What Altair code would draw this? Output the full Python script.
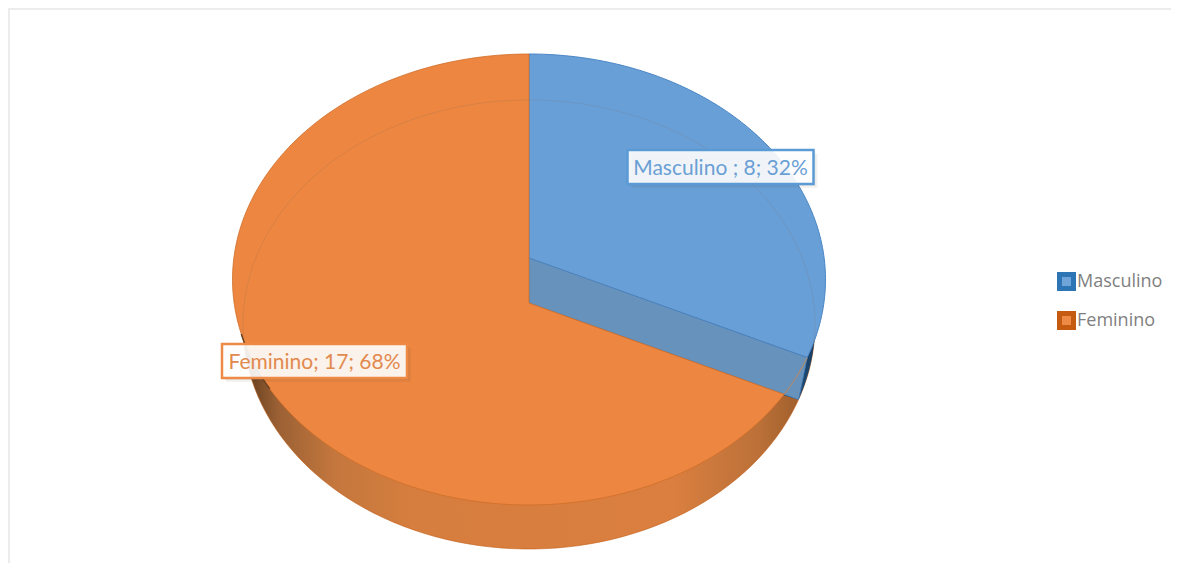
import numpy as np
import pandas as pd
import altair as alt

categories = ["Masculino", "Feminino"]
counts = [8, 17]
label_texts = ["Masculino ; 8; 32%", "Feminino; 17; 68%"]
face_colors = ["#699fd7", "#ec8641"]
edge_colors = ["#4a86c5", "#cf6f2a"]
text_colors = ["#6a9fd4", "#e28a4e"]

# layout, in picture pixels
W, H = 1163, 555
CX, RX_TOP, RY_TOP, CY_TOP = 529.0, 296.5, 225.5, 279.5
RX_LOW, RY_LOW, CY_LOW = 286.0, 224.5, 324.5
APEX_TOP, APEX_LOW = 258.0, 303.0
LABEL_BOX = [(720.5, 167, 186, 34), (314.5, 361, 185, 34)]
SHADOW = 4

turn = 2 * np.pi * counts[0] / sum(counts)


def ell(t, rx, ry, cy):
    return CX + rx * np.sin(t), cy - ry * np.cos(t)


def ray_hit(apex_y, rx, ry, cy):
    dx, dy = RX_TOP * np.sin(turn), -RY_TOP * np.cos(turn)
    a = (dx / rx) ** 2 + (dy / ry) ** 2
    oy = apex_y - cy
    b = 2 * oy * dy / ry ** 2
    c = (oy / ry) ** 2 - 1
    s = (-b + np.sqrt(b * b - 4 * a * c)) / (2 * a)
    x, y = CX + s * dx, apex_y + s * dy
    return x, y, np.arctan2((x - CX) / rx, -(y - cy) / ry) % (2 * np.pi)


xs_top, ys_top, t_top = ray_hit(APEX_TOP, RX_TOP, RY_TOP, CY_TOP)
xo_top, yo_top, to_top = ray_hit(APEX_LOW, RX_TOP, RY_TOP, CY_TOP)
xw_low, yw_low, t_low = ray_hit(APEX_LOW, RX_LOW, RY_LOW, CY_LOW)


def frame(points):
    pts = list(points)
    return pd.DataFrame({"x": [p[0] for p in pts], "y": [p[1] for p in pts], "i": range(len(pts))})


def arc(t0, t1, rx, ry, cy, n=160):
    return [ell(t, rx, ry, cy) for t in np.linspace(t0, t1, n)]


SX = alt.Scale(domain=[8, 8 + W], nice=False, zero=False)
SY = alt.Scale(domain=[8 + H, 8], nice=False, zero=False)
X = alt.X("x:Q", axis=None, scale=SX)
Y = alt.Y("y:Q", axis=None, scale=SY)


def poly(points, **mark):
    mark.setdefault("strokeWidth", 0)
    pts = list(points)
    pts.append(pts[0])
    return alt.Chart(frame(pts)).mark_line(interpolate="linear", **mark).encode(x=X, y=Y, order="i:Q")


def path(points, **mark):
    return alt.Chart(frame(points)).mark_line(interpolate="linear", **mark).encode(x=X, y=Y, order="i:Q")


# page edge
edge_df = pd.DataFrame({"x": [8, 8], "x2": [8 + W, 10], "y": [8, 8], "y2": [10, 8 + H]})
page_edge = alt.Chart(edge_df).mark_rect(color="#ececec").encode(
    x=alt.X("x:Q", axis=None, scale=SX), x2="x2:Q", y=alt.Y("y:Q", axis=None, scale=SY), y2="y2:Q")

# legend source: small squares hidden under the pie
legend_df = pd.DataFrame({"x": [CX, CX], "y": [CY_TOP, CY_TOP], "cat": categories})
legend_opts = dict(
    title=None, orient="none", legendX=1049, legendY=264, symbolType="square", symbolSize=196,
    symbolStrokeWidth=5, labelFont="Open Sans", labelFontSize=18, labelColor="#7f7f7f",
    rowPadding=4, labelOffset=1, symbolOpacity=1,
)
legend_layer = alt.Chart(legend_df).mark_point(filled=True, shape="square", size=4).encode(
    x=X, y=Y,
    fill=alt.Fill("cat:N", scale=alt.Scale(domain=categories, range=["#6fa4d8", "#ed8a45"]),
                  legend=alt.Legend(**legend_opts)),
    stroke=alt.Stroke("cat:N", scale=alt.Scale(domain=categories, range=["#2e75b6", "#c55a11"]),
                      legend=alt.Legend(**legend_opts)),
)

side_grad = alt.Gradient(gradient="linear", x1=0, x2=1, y1=0, y2=0, stops=[
    alt.GradientStop(offset=0.0, color="#5f3b1c"),
    alt.GradientStop(offset=0.06, color="#9a6034"),
    alt.GradientStop(offset=0.16, color="#c4773d"),
    alt.GradientStop(offset=0.3, color="#d67e3f"),
    alt.GradientStop(offset=0.75, color="#da7f40"),
    alt.GradientStop(offset=0.9, color="#bc7138"),
    alt.GradientStop(offset=1.0, color="#965828"),
])
navy_grad = alt.Gradient(gradient="linear", x1=0, x2=0, y1=0, y2=1, stops=[
    alt.GradientStop(offset=0.0, color="#3f78b0"),
    alt.GradientStop(offset=0.6, color="#163c60"),
    alt.GradientStop(offset=1.0, color="#1f4e79"),
])

side = poly(arc(0, 2 * np.pi, RX_LOW, RY_LOW, CY_LOW), fill=side_grad, stroke="#c55a11", strokeWidth=0.6)
navy = poly([(CX, CY_LOW)] + arc(np.radians(70), t_low, RX_LOW, RY_LOW, CY_LOW), fill=navy_grad)
blue_top = poly([(CX, APEX_TOP)] + arc(0, t_top, RX_TOP, RY_TOP, CY_TOP), fill=face_colors[0],
                stroke=edge_colors[0], strokeWidth=1)
blue_wall = poly([(CX, APEX_TOP), (CX, APEX_LOW), (xw_low, yw_low), (xs_top, ys_top)], fill="#6792bc",
                 stroke="#4a82bd", strokeWidth=0.8)
orange_top = poly([(CX, APEX_LOW)] + arc(to_top, 2 * np.pi, RX_TOP, RY_TOP, CY_TOP), fill=face_colors[1],
                  stroke=edge_colors[1], strokeWidth=0.8)
rim = path(arc(t_top, to_top, RX_TOP, RY_TOP, CY_TOP, 30), stroke="#a98a72", strokeWidth=1.2)
faint = path(arc(np.radians(-112), np.radians(104), RX_LOW, RY_LOW, CY_LOW), stroke="#7a6a5a",
             strokeWidth=0.8, opacity=0.22)
dark_lip = path(arc(np.radians(256), np.radians(241), RX_TOP, RY_TOP, CY_TOP, 30), stroke="#6b4220", strokeWidth=1.5)

boxes = pd.DataFrame({
    "x": [b[0] - b[2] / 2 for b in LABEL_BOX], "x2": [b[0] + b[2] / 2 for b in LABEL_BOX],
    "y": [b[1] - b[3] / 2 for b in LABEL_BOX], "y2": [b[1] + b[3] / 2 for b in LABEL_BOX],
    "cx": [b[0] for b in LABEL_BOX], "cy": [b[1] + 1.5 for b in LABEL_BOX],
    "t": label_texts, "cat": categories,
})
for k, d in (("o1", SHADOW), ("o2", SHADOW - 2)):
    boxes[k + "x"] = boxes["x"] + d
    boxes[k + "x2"] = boxes["x2"] + d
    boxes[k + "y"] = boxes["y"] + d
    boxes[k + "y2"] = boxes["y2"] + d


def shadow_layer(k):
    return alt.Chart(boxes).mark_rect(color="#4a4034", opacity=0.07).encode(
        x=alt.X(k + "x:Q", axis=None, scale=SX), x2=k + "x2:Q", y=alt.Y(k + "y:Q", axis=None, scale=SY), y2=k + "y2:Q")


box = alt.Chart(boxes).mark_rect(fillOpacity=0.9, strokeWidth=2.5).encode(
    x=alt.X("x:Q", axis=None, scale=SX), x2="x2:Q", y=alt.Y("y:Q", axis=None, scale=SY), y2="y2:Q",
    fill=alt.value("#ffffff"),
    stroke=alt.Stroke("cat:N", scale=alt.Scale(domain=categories, range=["#5b9bd5", "#ed8a45"]), legend=None),
)
txt = alt.Chart(boxes).mark_text(font="Lato", fontSize=21, align="center", baseline="middle").encode(
    x=alt.X("cx:Q", axis=None, scale=SX), y=alt.Y("cy:Q", axis=None, scale=SY), text="t:N",
    color=alt.Color("cat:N", scale=alt.Scale(domain=categories, range=text_colors), legend=None),
)

chart = alt.layer(page_edge, legend_layer, side, navy, blue_top, blue_wall, orange_top, rim, faint, dark_lip,
                  shadow_layer("o1"), shadow_layer("o2"), box, txt).resolve_scale(
    fill="independent", stroke="independent", color="independent"
).properties(width=W, height=H, padding=0, background="white").configure_view(stroke=None)

chart.save("out.html", embed_options={"renderer": "svg", "actions": False})
